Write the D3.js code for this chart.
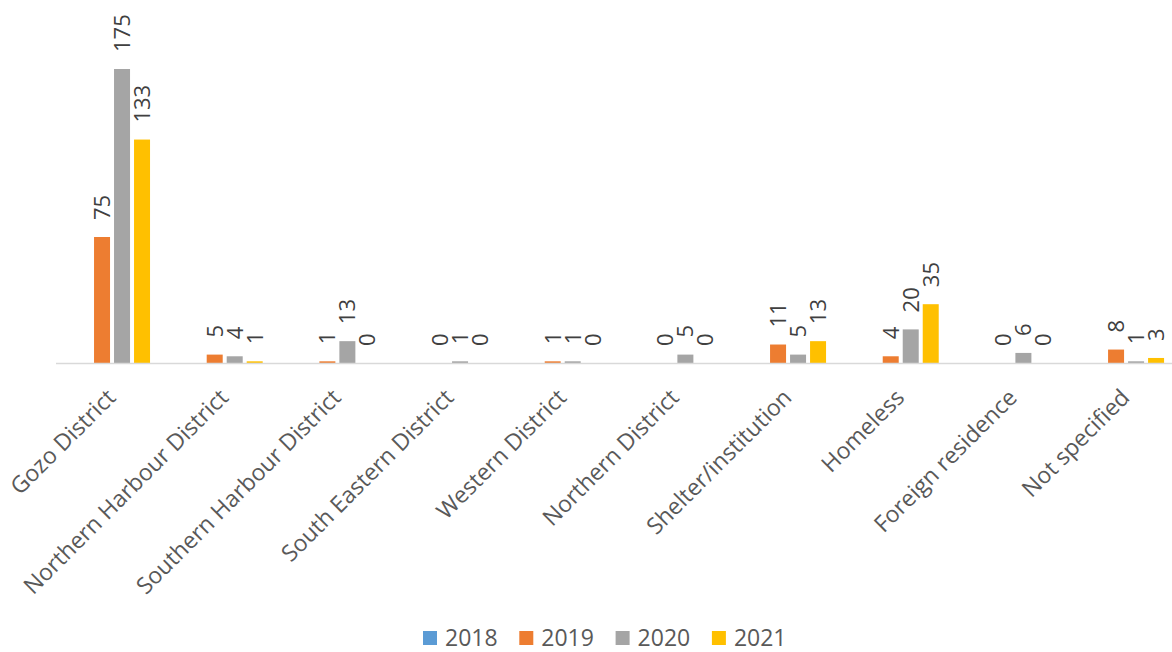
<!DOCTYPE html>
<html>
<head>
<meta charset="utf-8">
<script src="https://d3js.org/d3.v7.min.js"></script>
<style>
  body { margin: 0; background: #fff; }
  svg { display: block; font-family: "Open Sans", "Noto Sans", sans-serif; }
</style>
</head>
<body>
<script>
var categories = ['Gozo District', 'Northern Harbour District', 'Southern Harbour District',
	'South Eastern District', 'Western District', 'Northern District',
	'Shelter/institution', 'Homeless', 'Foreign residence', 'Not specified'];

var years = ['2018', '2019', '2020', '2021'];

var values2018 = [null, null, null, null, null, null, null, null, null, null];
var values2019 = [75, 5, 1, 0, 1, 0, 11, 4, 0, 8];
var values2020 = [175, 4, 13, 1, 1, 5, 5, 20, 6, 1];
var values2021 = [133, 1, 0, 0, 0, 0, 13, 35, 0, 3];

var colors = ['#5b9bd5', '#ed7d31', '#a5a5a5', '#ffc000'];

var width = 1172,
	height = 652;

var series = [values2018, values2019, values2020, values2021];

var svg = d3.select('body')
	.append('svg')
	.attr('width', width)
	.attr('height', height);

// plot runs a little past the right edge, as in the original
var x0 = d3.scaleBand()
	.domain(categories)
	.range([55.7, 1182.4])
	.padding(0);

var groupPad = (x0.bandwidth() - 76) / 2;

var x1 = d3.scaleBand()
	.domain(years)
	.range([groupPad, groupPad + 76])
	.paddingInner(0.2)
	.paddingOuter(0);

var y = d3.scaleLinear()
	.domain([0, 200])
	.range([363, 27]);

// flatten to one record per bar
var bars = [];
categories.forEach(function(c, i) {
	years.forEach(function(yr, j) {
		if (series[j][i] !== null) {
			bars.push({cat: c, year: yr, value: series[j][i], color: colors[j]});
		}
	});
});

svg.append('g')
	.selectAll('rect')
	.data(bars)
	.enter()
	.append('rect')
	.attr('x', function(d) { return x0(d.cat) + x1(d.year); })
	.attr('y', function(d) { return y(d.value); })
	.attr('width', x1.bandwidth())
	.attr('height', function(d) { return y(0) - y(d.value); })
	.attr('fill', function(d) { return d.color; });

// axis line
svg.append('line')
	.attr('x1', 56)
	.attr('x2', 1172)
	.attr('y1', y(0) + 0.5)
	.attr('y2', y(0) + 0.5)
	.attr('stroke', '#d9d9d9')
	.attr('stroke-width', 1.5);

// value labels, rotated
svg.append('g')
	.selectAll('text')
	.data(bars)
	.enter()
	.append('text')
	.attr('transform', function(d) {
		var cx = x0(d.cat) + x1(d.year) + x1.bandwidth() / 2;
		return 'translate(' + cx + ',' + (y(d.value) - 17) + ') rotate(-90)';
	})
	.attr('dy', '0.36em')
	.attr('text-anchor', 'start')
	.attr('font-size', 22)
	.attr('fill', '#404040')
	.text(function(d) { return d.value; });

// category labels
svg.append('g')
	.selectAll('text')
	.data(categories)
	.enter()
	.append('text')
	.attr('transform', function(d) {
		return 'translate(' + (x0(d) + x0.bandwidth() / 2 + 5) + ',399) rotate(-45)';
	})
	.attr('text-anchor', 'end')
	.attr('font-size', 23)
	.attr('fill', '#595959')
	.text(function(d) { return d; });

// legend
var legend = svg.append('g')
	.selectAll('g')
	.data(years)
	.enter()
	.append('g')
	.attr('transform', function(d, i) { return 'translate(' + (423 + i * 96.3) + ',631)'; });

legend.append('rect')
	.attr('width', 14)
	.attr('height', 14)
	.attr('fill', function(d, i) { return colors[i]; });

legend.append('text')
	.attr('x', 22)
	.attr('y', 14.5)
	.attr('font-size', 23)
	.attr('fill', '#595959')
	.text(function(d) { return d; });
</script>
</body>
</html>
